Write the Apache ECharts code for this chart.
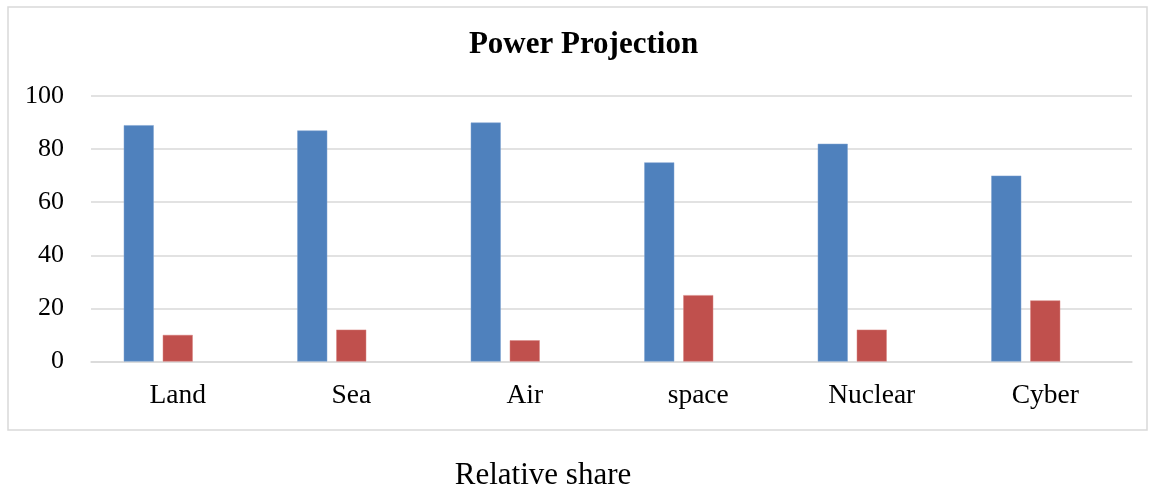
<!DOCTYPE html>
<html>
<head>
<meta charset="utf-8">
<script src="https://cdn.jsdelivr.net/npm/echarts@6/dist/echarts.min.js"></script>
<style>
html,body{margin:0;padding:0;background:#fff;}
#chart{width:1156px;height:491px;}
</style>
</head>
<body>
<div id="chart"></div>
<script>
const categories = ['Land', 'Sea', 'Air', 'space', 'Nuclear', 'Cyber'];
const series1 = [89, 87, 90, 75, 82, 70];
const series2 = [10, 12, 8, 25, 12, 23];
const series3 = [null, null, null, null, null, null];
const yTicks = [0, 20, 40, 60, 80, 100];
const titleText = 'Power Projection';
const axisTitle = 'Relative share';

const FONT = '"Liberation Serif", "DejaVu Serif", serif';
const chart = echarts.init(document.getElementById('chart'));
chart.setOption({
  animation: false,
  backgroundColor: '#fff',
  grid: { left: 91, right: 24, top: 96, bottom: 129.5, containLabel: false },
  xAxis: {
    type: 'category',
    data: categories,
    axisLine: { show: true, lineStyle: { color: '#D9D9D9', width: 1.5 } },
    axisTick: { show: false },
    axisLabel: { color: '#000', fontFamily: FONT, fontSize: 27.5, margin: 20 }
  },
  yAxis: {
    type: 'value',
    min: yTicks[0],
    max: yTicks[yTicks.length - 1],
    interval: yTicks[1] - yTicks[0],
    axisLine: { show: false },
    axisTick: { show: false },
    splitLine: { lineStyle: { color: '#D9D9D9', width: 1.5 } },
    axisLabel: { color: '#000', fontFamily: FONT, fontSize: 26, margin: 27 }
  },
  series: [
    { type: 'bar', name: 'Series1', data: series1, barWidth: 30, barGap: '30%',
      itemStyle: { color: '#4F81BD', borderColor: '#7FA3D0', borderWidth: 0.5 } },
    { type: 'bar', name: 'Series2', data: series2, barWidth: 30, barGap: '30%',
      itemStyle: { color: '#C0504D', borderColor: '#D88582', borderWidth: 0.5 } },
    { type: 'bar', name: 'Series3', data: series3, barWidth: 30, barGap: '30%',
      itemStyle: { color: '#9BBB59' } }
  ],
  graphic: [
    { type: 'rect', silent: true, z: -1,
      shape: { x: 8, y: 7, width: 1139, height: 423 },
      style: { fill: 'none', stroke: '#D9D9D9', lineWidth: 1.5 } },
    { type: 'text', x: 583.5, y: 45,
      style: { text: titleText, fill: '#000', font: 'bold 31px ' + FONT,
               textAlign: 'center', textVerticalAlign: 'middle' } },
    { type: 'text', x: 543, y: 476,
      style: { text: axisTitle, fill: '#000', font: '31px ' + FONT,
               textAlign: 'center', textVerticalAlign: 'middle' } }
  ]
});
</script>
</body>
</html>
